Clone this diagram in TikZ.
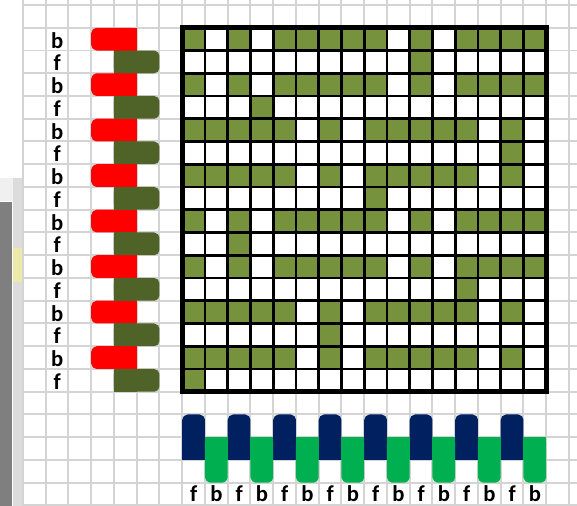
\documentclass[tikz,border=0pt]{standalone}
\usepackage{fontspec}
\setmainfont{Carlito}
\usepackage{tikz}
\usetikzlibrary{positioning, calc}
\definecolor{cellgreen}{HTML}{76923C}
\definecolor{weftred}{HTML}{FF0000}
\definecolor{weftolive}{HTML}{4F6228}
\definecolor{warpnavy}{HTML}{002060}
\definecolor{warpgreen}{HTML}{00B050}
\definecolor{sheetgray}{HTML}{D4D4D4}
\definecolor{panelgray}{HTML}{7F7F7F}
\definecolor{panellight}{HTML}{F0F0F0}
\definecolor{panelstrip}{HTML}{DCDCDC}
\definecolor{panelyellow}{HTML}{EDE9A9}

\tikzset{
  letter/.style={font=\fontsize{17}{17}\selectfont\bfseries, inner sep=0pt, anchor=base},
  sheetline/.style={draw=sheetgray, line width=1.5pt},
  gridline/.style={draw=black, line width=2.2pt},
}

\begin{document}
\begin{tikzpicture}[x=0.6cm, y=0.6cm]
  \useasboundingbox (-1.011,0.22) rectangle (24.352,-22.022);
  \fill[white] (-1.011,0.22) rectangle (24.352,-22.022);

  % spreadsheet background
  \foreach \c in {0,...,24}
    \draw[sheetline] (\c,0.22) -- (\c,-22.022);
  \foreach \r in {0,...,22}
    \draw[sheetline] (0,-\r) -- (24.352,-\r);

  % side panel
  \fill[panellight] (-1.011,-7.604) rectangle (-0.44,-8.615);
  \fill[panelgray] (-1.011,-8.66) rectangle (-0.484,-22.022);
  \fill[panelstrip] (-0.44,-7.604) rectangle (-0.044,-22.022);
  \fill[panelyellow] (-0.44,-10.68) rectangle (-0.044,-12.18);

  % draft cells
  \foreach \row [count=\j] in {
      {1,0,1,0,1,1,1,1,1,0,1,0,1,1,1,1},
      {0,0,0,0,0,0,0,0,0,0,1,0,0,0,0,0},
      {1,0,1,0,1,1,1,1,1,0,1,0,1,1,1,1},
      {0,0,0,1,0,0,0,0,0,0,0,0,0,0,0,0},
      {1,1,1,1,1,0,1,0,1,1,1,1,1,0,1,0},
      {0,0,0,0,0,0,0,0,0,0,0,0,0,0,1,0},
      {1,1,1,1,1,0,1,0,1,1,1,1,1,0,1,0},
      {0,0,0,0,0,0,0,0,1,0,0,0,0,0,0,0},
      {1,0,1,0,1,1,1,1,1,0,1,0,1,1,1,1},
      {0,0,1,0,0,0,0,0,0,0,0,0,0,0,0,0},
      {1,0,1,0,1,1,1,1,1,0,1,0,1,1,1,1},
      {0,0,0,0,0,0,0,0,0,0,0,0,1,0,0,0},
      {1,1,1,1,1,0,1,0,1,1,1,1,1,0,1,0},
      {0,0,0,0,0,0,1,0,0,0,0,0,0,0,0,0},
      {1,1,1,1,1,0,1,0,1,1,1,1,1,0,1,0},
      {1,0,0,0,0,0,0,0,0,0,0,0,0,0,0,0}}
    \foreach \v [count=\i] in \row {
      \ifnum\v=1 \fill[cellgreen] (6+\i,-\j) rectangle (7+\i,-\j-1); \fi
    };

  \draw[gridline] (7,-1) grid[step={(1,1)}] (23,-17);
  \draw[black, line width=3.4pt] (7,-1) rectangle (23,-17);

  % weft picks
  \foreach \j in {1,3,...,15} {
    \fill[weftred, rounded corners=4pt] (3,-\j) rectangle (5,-\j-1);
    \fill[weftred] (4,-\j) rectangle (5,-\j-1);
    \node[letter] (weft\j) at (1.5,-\j-0.9) {b};
  }
  \foreach \j in {2,4,...,16} {
    \fill[weftolive, rounded corners=4pt] (4,-\j) rectangle (6,-\j-1);
    \fill[weftolive] (4,-\j) rectangle (5,-\j-1);
    \node[letter] (weft\j) at (1.5,-\j-0.9) {f};
  }

  % warp ends
  \foreach \i in {1,3,...,15} {
    \fill[warpnavy, rounded corners=4pt] (6+\i,-18) rectangle (7+\i,-20);
    \fill[warpnavy] (6+\i,-19) rectangle (7+\i,-20);
    \node[letter] (warp\i) at (6.5+\i,-21.84) {f};
  }
  \foreach \i in {2,4,...,16} {
    \fill[warpgreen, rounded corners=4pt] (6+\i,-19) rectangle (7+\i,-21);
    \fill[warpgreen] (6+\i,-19) rectangle (7+\i,-20);
    \node[letter] (warp\i) at (6.5+\i,-21.84) {b};
  }
\end{tikzpicture}
\end{document}
